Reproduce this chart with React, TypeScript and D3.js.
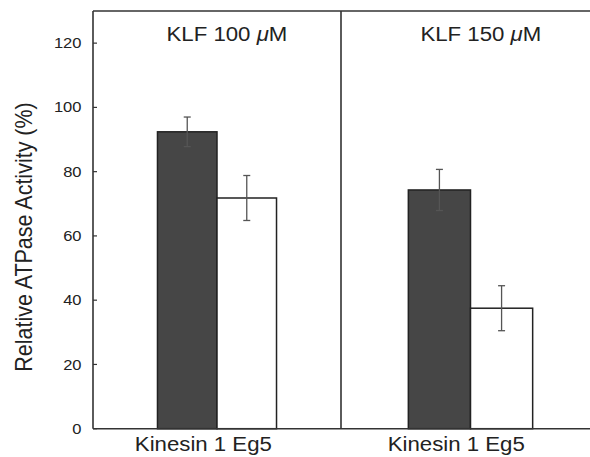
import * as d3 from "d3";

// values (percent of control)
const panels = ["KLF 100", "KLF 150"];
const categories = ["Kinesin 1", "Eg5"];
const kinesinValues = [92.4, 74.3];
const kinesinErrors = [4.6, 6.4];
const eg5Values = [71.8, 37.5];
const eg5Errors = [7.0, 7.0];
const yTicks = [0, 20, 40, 60, 80, 100, 120];
const xLabel = "Kinesin 1 Eg5";
const yLabel = "Relative ATPase Activity (%)";

const W = 590;
const H = 457;
const left = 93;
const top = 11;
const bottom = 428.7;
const divider = 341;
const right = 600; // frame runs past the picture edge
const stretch = 1.14; // source text is a little wide

const font = "'Liberation Sans', Arial, Helvetica, sans-serif";
const ink = "#222";

export default function App() {
  const x = d3.scaleLinear().domain([0, 1, 2]).range([left, divider, right]);
  const y = d3.scaleLinear().domain([0, 130]).range([bottom, top]);
  const inner = d3.scaleBand<string>().domain(categories).range([0.26, 0.74]);

  const bars = panels.flatMap((p, i) => [
    { panel: i, cat: categories[0], v: kinesinValues[i], e: kinesinErrors[i], fill: "#464646" },
    { panel: i, cat: categories[1], v: eg5Values[i], e: eg5Errors[i], fill: "#fff" },
  ]);

  return (
    <svg width={W} height={H} style={{ position: "absolute", left: 0, top: 0 }} fontFamily={font}>
      <rect width={W} height={H} fill="#fff" />

      {/* bars */}
      {bars.map((b, k) => {
        const x0 = x(b.panel + (inner(b.cat) as number));
        const x1 = x(b.panel + (inner(b.cat) as number) + inner.bandwidth());
        return (
          <rect
            key={"b" + k}
            x={x0}
            y={y(b.v)}
            width={x1 - x0}
            height={y(0) - y(b.v)}
            fill={b.fill}
            stroke="#222"
            strokeWidth={1.5}
          />
        );
      })}

      {/* error bars */}
      {bars.map((b, k) => {
        const cx = x(b.panel + (inner(b.cat) as number) + inner.bandwidth() / 2);
        return (
          <g key={"e" + k} stroke="#555" strokeWidth={1.3}>
            <line x1={cx} x2={cx} y1={y(b.v + b.e)} y2={y(b.v - b.e)} />
            <line x1={cx - 3.5} x2={cx + 3.5} y1={y(b.v + b.e)} y2={y(b.v + b.e)} />
            <line x1={cx - 3.5} x2={cx + 3.5} y1={y(b.v - b.e)} y2={y(b.v - b.e)} />
          </g>
        );
      })}

      {/* frame */}
      <g stroke="#333" strokeWidth={1.6} fill="none">
        <line x1={left} x2={right} y1={top} y2={top} />
        <line x1={left} x2={right} y1={bottom} y2={bottom} />
        <line x1={left} x2={left} y1={top} y2={bottom} />
        <line x1={x(1)} x2={x(1)} y1={top} y2={bottom} />
      </g>

      {/* y ticks, pointing inward */}
      {yTicks.map((t) => (
        <g key={"t" + t}>
          <line x1={left} x2={left + 4} y1={y(t)} y2={y(t)} stroke="#333" strokeWidth={1.2} />
          <text
            transform={`translate(81.5,${y(t)}) scale(${stretch},1)`}
            dy="0.35em"
            textAnchor="end"
            fontSize={14.5}
            fill={ink}
          >
            {t}
          </text>
        </g>
      ))}

      {/* panel titles */}
      {panels.map((p, i) => (
        <text
          key={"p" + i}
          transform={`translate(${x(i + 0.54)},41) scale(${stretch},1)`}
          textAnchor="middle"
          fontSize={19.5}
          fill={ink}
        >
          {p} <tspan fontStyle="italic">μ</tspan>M
        </text>
      ))}

      {/* x labels */}
      {panels.map((p, i) => (
        <text
          key={"x" + i}
          transform={`translate(${x(i + 0.445)},450.5) scale(${stretch},1)`}
          textAnchor="middle"
          fontSize={19.5}
          fill={ink}
        >
          {xLabel}
        </text>
      ))}

      {/* y label */}
      <text
        transform={`translate(32,237) scale(${stretch},1) rotate(-90)`}
        textAnchor="middle"
        fontSize={21.5}
        fill={ink}
      >
        {yLabel}
      </text>
    </svg>
  );
}
